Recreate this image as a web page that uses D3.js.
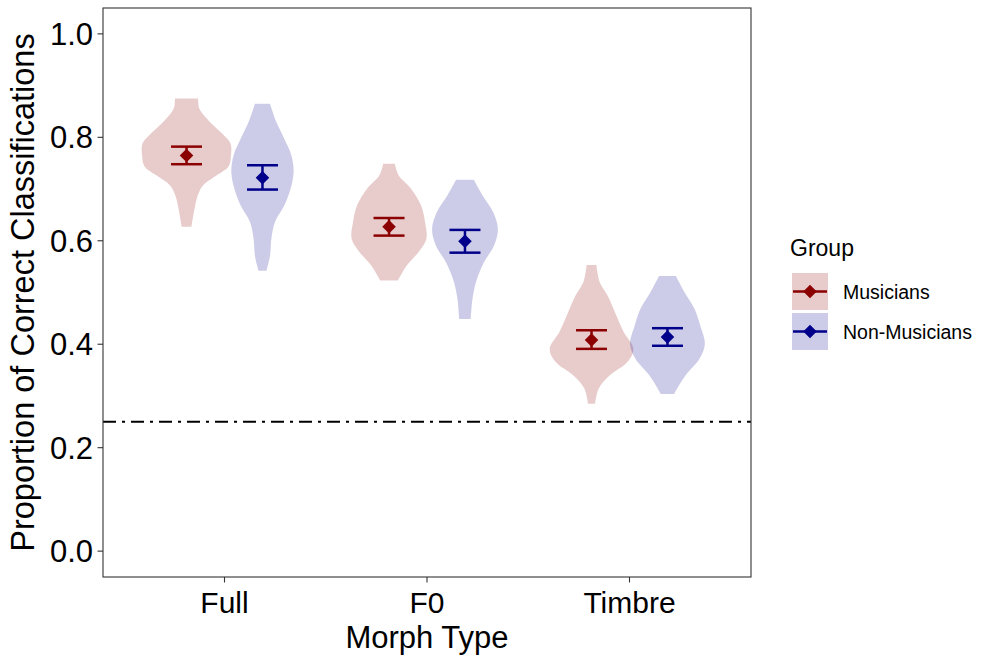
<!DOCTYPE html>
<html>
<head>
<meta charset="utf-8">
<script src="https://cdn.jsdelivr.net/npm/d3@7"></script>
<style>
  body { margin: 0; background: white; }
  text { font-family: "Liberation Sans", Arial, sans-serif; }
</style>
</head>
<body>
<div id="chart"></div>
<script>
// data
var morphTypes = ["Full", "F0", "Timbre"];
var groups = ["Musicians", "Non-Musicians"];
var yTicks = [0.0, 0.2, 0.4, 0.6, 0.8, 1.0];
var chance = 0.25;

// means and error bars (lo, hi)
var means = {
  "Musicians":     [0.765, 0.627, 0.408],
  "Non-Musicians": [0.722, 0.599, 0.414]
};
var errLo = {
  "Musicians":     [0.748, 0.610, 0.391],
  "Non-Musicians": [0.699, 0.577, 0.397]
};
var errHi = {
  "Musicians":     [0.782, 0.644, 0.427],
  "Non-Musicians": [0.746, 0.621, 0.431]
};

// violin profiles: [value, relative density]
var violinFullM = [[0.875,0.26],[0.855,0.29],[0.83,0.52],[0.803,0.85],[0.788,0.99],[0.765,1.0],[0.743,0.94],[0.726,0.67],[0.706,0.36],[0.687,0.25],[0.662,0.18],[0.627,0.11]];
var violinFullN = [[0.865,0.17],[0.83,0.31],[0.797,0.49],[0.765,0.65],[0.733,0.70],[0.70,0.63],[0.668,0.49],[0.636,0.28],[0.604,0.20],[0.571,0.17],[0.542,0.09]];
var violinF0M = [[0.749,0.13],[0.726,0.22],[0.701,0.49],[0.668,0.72],[0.636,0.81],[0.604,0.84],[0.579,0.67],[0.552,0.40],[0.523,0.20]];
var violinF0N = [[0.718,0.20],[0.687,0.40],[0.656,0.63],[0.623,0.74],[0.59,0.65],[0.559,0.43],[0.521,0.25],[0.488,0.17],[0.449,0.13]];
var violinTimbreM = [[0.553,0.11],[0.521,0.18],[0.494,0.36],[0.455,0.56],[0.424,0.72],[0.391,0.94],[0.366,0.81],[0.339,0.40],[0.314,0.16],[0.285,0.08]];
var violinTimbreN = [[0.532,0.19],[0.501,0.38],[0.468,0.61],[0.435,0.74],[0.40,0.84],[0.372,0.72],[0.339,0.40],[0.304,0.15]];

var violins = {
  "Musicians":     [violinFullM, violinF0M, violinTimbreM],
  "Non-Musicians": [violinFullN, violinF0N, violinTimbreN]
};

var lineColor = {"Musicians": "#8B0000", "Non-Musicians": "#00008B"};

var width = 984, height = 656;
var panel = {left: 103, right: 751, top: 8, bottom: 577};

var svg = d3.select("#chart").append("svg")
    .attr("width", width)
    .attr("height", height);

svg.append("rect")
    .attr("width", width)
    .attr("height", height)
    .attr("fill", "white");

// scales
// discrete axis with 0.6 units of padding on each side (like ggplot)
var x = d3.scalePoint()
    .domain(morphTypes)
    .range([panel.left, panel.right])
    .padding(0.6);
var unit = x.step();

var dodge = d3.scaleOrdinal()
    .domain(groups)
    .range([-0.1875 * unit, 0.1875 * unit]);

var y = d3.scaleLinear()
    .domain([-0.05, 1.05])
    .range([panel.bottom, panel.top]);

var w = d3.scaleLinear()
    .domain([0, 1])
    .range([0, 44.5]);

// violins
var plot = svg.append("g");

groups.forEach(function(g) {
  morphTypes.forEach(function(m, i) {
    var c = x(m) + dodge(g);
    var area = d3.area()
        .curve(d3.curveCatmullRom)
        .y(function(d) { return y(d[0]); })
        .x0(function(d) { return c - w(d[1]); })
        .x1(function(d) { return c + w(d[1]); });
    plot.append("path")
        .datum(violins[g][i])
        .attr("d", area)
        .attr("fill", lineColor[g])
        .attr("fill-opacity", 0.2);
  });
});

// chance line
plot.append("line")
    .attr("x1", panel.left)
    .attr("x2", panel.right)
    .attr("y1", y(chance))
    .attr("y2", y(chance))
    .attr("stroke", "black")
    .attr("stroke-width", 2)
    .attr("stroke-dasharray", "13,6,3,6");

// error bars and means
var diamond = d3.symbol().type(d3.symbolSquare).size(92);
groups.forEach(function(g) {
  morphTypes.forEach(function(m, i) {
    var c = x(m) + dodge(g);
    var eb = plot.append("g")
        .attr("stroke", lineColor[g])
        .attr("stroke-width", 2.5);
    eb.append("line")
        .attr("x1", c).attr("x2", c)
        .attr("y1", y(errLo[g][i])).attr("y2", y(errHi[g][i]));
    eb.append("line")
        .attr("x1", c - 15.5).attr("x2", c + 15.5)
        .attr("y1", y(errLo[g][i])).attr("y2", y(errLo[g][i]));
    eb.append("line")
        .attr("x1", c - 15.5).attr("x2", c + 15.5)
        .attr("y1", y(errHi[g][i])).attr("y2", y(errHi[g][i]));
    plot.append("path")
        .attr("d", diamond)
        .attr("transform", "translate(" + c + "," + y(means[g][i]) + ") rotate(45)")
        .attr("fill", lineColor[g]);
  });
});

// panel border
svg.append("rect")
    .attr("x", panel.left)
    .attr("y", panel.top)
    .attr("width", panel.right - panel.left)
    .attr("height", panel.bottom - panel.top)
    .attr("fill", "none")
    .attr("stroke", "#333333")
    .attr("stroke-width", 1.1);

// y axis
var yAxis = svg.append("g");
yTicks.forEach(function(t) {
  yAxis.append("line")
      .attr("x1", panel.left - 5.5).attr("x2", panel.left)
      .attr("y1", y(t)).attr("y2", y(t))
      .attr("stroke", "#333333").attr("stroke-width", 1.1);
  yAxis.append("text")
      .attr("x", panel.left - 10)
      .attr("y", y(t))
      .attr("dy", "0.36em")
      .attr("text-anchor", "end")
      .attr("font-size", "31px")
      .attr("fill", "black")
      .text(d3.format(".1f")(t));
});

// x axis
var xAxis = svg.append("g");
morphTypes.forEach(function(m) {
  xAxis.append("line")
      .attr("x1", x(m)).attr("x2", x(m))
      .attr("y1", panel.bottom).attr("y2", panel.bottom + 5.5)
      .attr("stroke", "#333333").attr("stroke-width", 1.1);
  xAxis.append("text")
      .attr("x", x(m))
      .attr("y", 613)
      .attr("text-anchor", "middle")
      .attr("font-size", "30px")
      .attr("fill", "black")
      .text(m);
});

// axis titles
svg.append("text")
    .attr("x", (panel.left + panel.right) / 2)
    .attr("y", 648)
    .attr("text-anchor", "middle")
    .attr("font-size", "31px")
    .text("Morph Type");

svg.append("text")
    .attr("transform", "translate(34," + (panel.top + panel.bottom) / 2 + ") rotate(-90)")
    .attr("text-anchor", "middle")
    .attr("font-size", "32.5px")
    .text("Proportion of Correct Classifications");

// legend
var legend = svg.append("g").attr("transform", "translate(792,0)");
legend.append("text")
    .attr("x", -2)
    .attr("y", 256)
    .attr("font-size", "23px")
    .text("Group");

groups.forEach(function(g, i) {
  var ky = 273 + i * 40;
  legend.append("rect")
      .attr("x", 0).attr("y", ky)
      .attr("width", 36).attr("height", 37)
      .attr("fill", lineColor[g])
      .attr("fill-opacity", 0.2);
  legend.append("line")
      .attr("x1", 1).attr("x2", 35)
      .attr("y1", ky + 18.5).attr("y2", ky + 18.5)
      .attr("stroke", lineColor[g])
      .attr("stroke-width", 2.5);
  legend.append("path")
      .attr("d", diamond)
      .attr("transform", "translate(18," + (ky + 18.5) + ") rotate(45)")
      .attr("fill", lineColor[g]);
  legend.append("text")
      .attr("x", 51)
      .attr("y", ky + 18.5)
      .attr("dy", "0.36em")
      .attr("font-size", "19.5px")
      .text(g);
});
</script>
</body>
</html>
